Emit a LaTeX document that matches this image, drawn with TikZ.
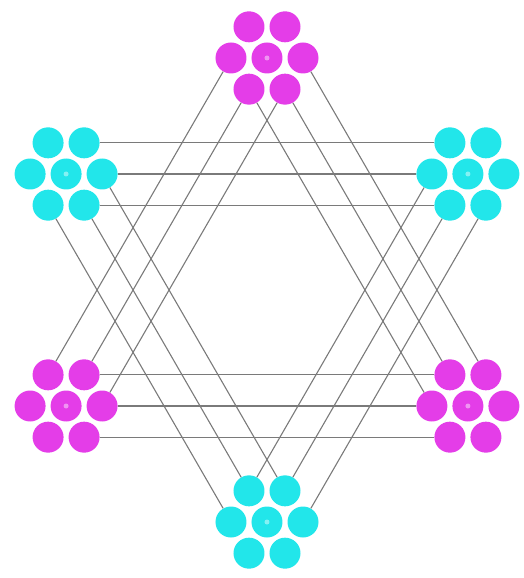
\documentclass[tikz,border=0pt]{standalone}
\usetikzlibrary{calc}
\definecolor{magentaDot}{HTML}{E43DE8}
\definecolor{cyanDot}{HTML}{22E6EA}
\definecolor{wireGray}{HTML}{7A7A7A}
\tikzset{
  blob/.style={circle, inner sep=0pt, minimum size=31pt},
  magblob/.style={blob, fill=magentaDot},
  cyanblob/.style={blob, fill=cyanDot},
  hub/.style={path picture={\fill[white, opacity=0.45] (path picture bounding box.center) circle (2.5pt);}},
  wire/.style={draw=wireGray, line width=1.1pt}
}
\begin{document}
\begin{tikzpicture}[x=1pt, y=1pt]
\useasboundingbox (-267,-288) rectangle (257,290);
% cluster centres
\coordinate (topM) at (90:232);
\coordinate (leftM) at (210:232);
\coordinate (rightM) at (330:232);
\coordinate (topleftC) at (150:232);
\coordinate (toprightC) at (30:232);
\coordinate (bottomC) at (270:232);
% rosettes of seven
\foreach \n/\s in {topM/magblob, leftM/magblob, rightM/magblob, topleftC/cyanblob, toprightC/cyanblob, bottomC/cyanblob}{
  \node[\s, hub] (\n-c) at (\n) {};
  \foreach \a in {0,60,...,300}
    \node[\s] (\n-\a) at ($(\n)+(\a:36)$) {};
}
% magenta triangle
\draw[wire] (topM-240) -- (leftM-60);
\draw[wire] (topM-300) -- (leftM-0);
\draw[wire] (topM-180) -- (leftM-120);
\draw[wire] (leftM-0) -- (rightM-180);
\draw[wire] (leftM-60) -- (rightM-120);
\draw[wire] (leftM-300) -- (rightM-240);
\draw[wire] (rightM-120) -- (topM-300);
\draw[wire] (rightM-180) -- (topM-240);
\draw[wire] (rightM-60) -- (topM-0);
% cyan triangle
\draw[wire] (topleftC-0) -- (toprightC-180);
\draw[wire] (topleftC-60) -- (toprightC-120);
\draw[wire] (topleftC-300) -- (toprightC-240);
\draw[wire] (toprightC-240) -- (bottomC-60);
\draw[wire] (toprightC-300) -- (bottomC-0);
\draw[wire] (toprightC-180) -- (bottomC-120);
\draw[wire] (bottomC-120) -- (topleftC-300);
\draw[wire] (bottomC-180) -- (topleftC-240);
\draw[wire] (bottomC-60) -- (topleftC-0);
\end{tikzpicture}
\end{document}
